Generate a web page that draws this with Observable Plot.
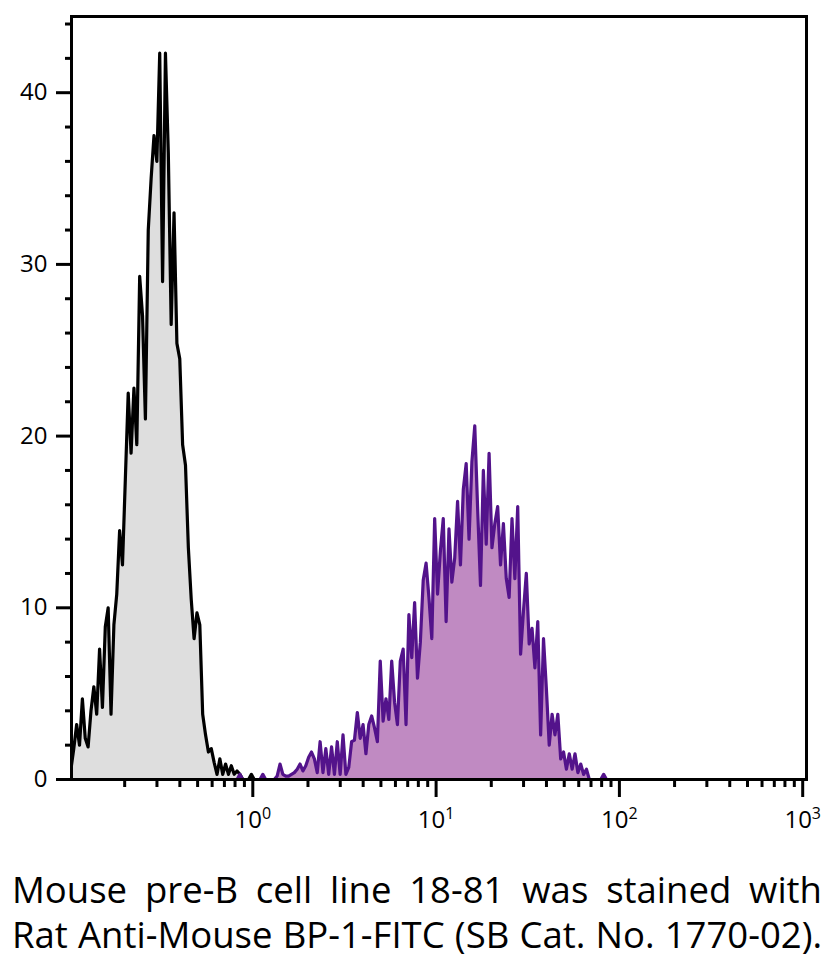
<!DOCTYPE html>
<html>
<head>
<meta charset="utf-8">
<script src="https://cdn.jsdelivr.net/npm/d3@7"></script>
<script src="https://cdn.jsdelivr.net/npm/@observablehq/plot@0.6"></script>
<style>
  html, body { margin: 0; padding: 0; background: #fff; }
  #chart svg { display: block; }
  #caption { position: absolute; left: 12px; width: 810px; font-family: "Open Sans", sans-serif; color: #000; }
  #caption div { text-align: justify; text-align-last: justify; white-space: nowrap; }
</style>
</head>
<body>
<div id="chart"></div>
<div id="caption">
  <div id="cap1">Mouse pre-B cell line 18-81 was stained with</div>
  <div id="cap2">Rat Anti-Mouse BP-1-FITC (SB Cat. No. 1770-02).</div>
</div>
<script>
// Histogram channels: 64 channels per decade, channel 0 starts at 10^-1
const channelsPerDecade = 64;
const blackStart = 0;
const blackCounts = [
  0.6, 1.8, 3.2, 2.0, 4.7, 2.4, 1.9, 4.0, 5.4, 3.8,
  7.6, 4.2, 8.9, 10.0, 3.8, 9.0, 10.8, 14.5, 12.5, 17.5,
  22.5, 19.0, 22.8, 19.5, 29.3, 27.0, 21.0, 32.0, 35.0, 37.5,
  36.0, 42.3, 29.0, 42.3, 36.5, 26.5, 33.0, 25.4, 24.5, 19.5,
  18.3, 13.5, 10.5, 8.2, 9.7, 9.0, 3.8, 2.6, 1.6, 1.8,
  1.0, 0.3, 1.2, 0.3, 0.9, 0.3, 0.8, 0.3, 0.5, 0.3,
  0, 0, 0, 0.3, 0
];
const purpleStart = 57;
const purpleCounts = [
  0, 0, 0.3, 0, 0, 0, 0, 0, 0, 0,
  0.3, 0, 0, 0, 0, 0.2, 0.9, 0.3, 0.2, 0.2,
  0.3, 0.4, 0.6, 0.9, 0.5, 0.8, 1.3, 1.6, 1.2, 0.4,
  2.2, 0.4, 1.8, 0.3, 1.9, 0.3, 2.2, 0.3, 2.6, 0.3,
  0.7, 2.2, 2.3, 3.9, 2.4, 3.2, 1.5, 3.2, 3.7, 3.0,
  2.2, 6.9, 3.4, 4.7, 3.5, 6.9, 4.5, 3.2, 6.9, 7.6,
  3.2, 9.6, 7.1, 10.3, 5.9, 8.0, 11.6, 12.6, 10.6, 8.2,
  15.2, 10.8, 13.3, 15.2, 9.2, 14.6, 11.5, 12.9, 16.2, 12.5,
  16.9, 18.4, 14.0, 18.5, 20.6, 15.8, 11.3, 18.0, 13.7, 19.0,
  13.5, 14.9, 15.9, 12.5, 14.9, 11.7, 10.6, 15.2, 11.7, 15.9,
  7.3, 9.8, 12.0, 7.9, 8.8, 6.5, 9.2, 2.6, 8.2, 5.3,
  2.0, 3.8, 2.6, 3.8, 1.2, 1.6, 0.6, 1.5, 0.6, 1.5,
  0.4, 0.9, 0.3, 0.6, 0, 0, 0, 0, 0, 0.3,
  0
];
const yMajorTicks = [0, 10, 20, 30, 40];
const yMinorTicks = [2, 4, 6, 8, 12, 14, 16, 18, 22, 24, 26, 28, 32, 34, 36, 38, 42, 44];
const xMajorTicks = [1, 10, 100, 1000];
const xMinorMultipliers = [2, 3, 4, 5, 6, 7, 8, 9];
const xDecades = [0.1, 1, 10, 100];
const captionLines = ["Mouse pre-B cell line 18-81 was stained with", "Rat Anti-Mouse BP-1-FITC (SB Cat. No. 1770-02)."];

const toRows = (start, counts) => counts.map((v, i) => ({
  x: Math.pow(10, -1 + (start + i + 0.5) / channelsPerDecade),
  y: v
}));
const blackData = toRows(blackStart, blackCounts);
const purpleData = toRows(purpleStart, purpleCounts);
const xMinorTicks = xDecades.flatMap(d => xMinorMultipliers.map(m => d * m));

const W = 834, H = 850;
const mL = 71, mR = 28, mT = 16, mB = 71;
const pxPerDecade = 183.3;
const xLeftLog = -1 + (mL - 69) / pxPerDecade;
const xRightLog = -1 + (W - mR - 69) / pxPerDecade;
const yTop = (H - mB - mT) / 17.17;

const font = '"Open Sans", sans-serif';
const plot = Plot.plot({
  width: W,
  height: H,
  marginLeft: mL,
  marginRight: mR,
  marginTop: mT,
  marginBottom: mB,
  style: { fontFamily: font, fontSize: "24px", color: "#000", background: "#fff" },
  x: { type: "log", domain: [Math.pow(10, xLeftLog), Math.pow(10, xRightLog)] },
  y: { domain: [0, yTop] },
  marks: [
    Plot.areaY(blackData, { x: "x", y: "y", fill: "#dedede", clip: true }),
    Plot.lineY(blackData, { x: "x", y: "y", stroke: "#000", strokeWidth: 3.2, clip: true }),
    Plot.areaY(purpleData, { x: "x", y: "y", fill: "#c08ac2", clip: true }),
    Plot.lineY(purpleData, { x: "x", y: "y", stroke: "#53138b", strokeWidth: 3.2, clip: true }),
    Plot.axisY({ ticks: yMinorTicks, tickSize: 6, tickFormat: () => "", strokeWidth: 3, label: null }),
    Plot.axisY({ ticks: yMajorTicks, tickSize: 15, tickPadding: 9, strokeWidth: 3, fontSize: 24, label: null }),
    Plot.axisX({ ticks: xMinorTicks, tickSize: 8, tickFormat: () => "", strokeWidth: 3, label: null }),
    Plot.axisX({ ticks: xMajorTicks, tickSize: 18, tickPadding: 13, strokeWidth: 3, fontSize: 24,
                 tickFormat: d => "10^" + Math.round(Math.log10(d)), label: null }),
    Plot.frame({ stroke: "#000", strokeWidth: 3 })
  ]
});
document.getElementById("chart").appendChild(plot);

// Thicker tick strokes
plot.querySelectorAll('g[aria-label$="tick"]').forEach(g => {
  g.setAttribute("stroke-width", "3");
  g.querySelectorAll("path, line").forEach(p => p.setAttribute("stroke-width", "3"));
});

// Render exponents as superscripts
plot.querySelectorAll("text").forEach(t => {
  const s = t.textContent;
  const m = /^10\^(-?\d+)$/.exec(s);
  if (m) {
    t.textContent = "10";
    const ts = document.createElementNS("http://www.w3.org/2000/svg", "tspan");
    ts.setAttribute("dy", "-0.55em");
    ts.setAttribute("font-size", "16");
    ts.textContent = m[1];
    t.appendChild(ts);
  }
});

// Caption: fit lines to the width
const cap = document.getElementById("caption");
const ctx = document.createElement("canvas").getContext("2d");
ctx.font = '100px "Open Sans"';
const w100 = ctx.measureText(captionLines[1]).width;
const fs = Math.min(37, 806 / w100 * 100);
cap.style.fontSize = fs + "px";
cap.style.lineHeight = "45px";
// place first baseline at y = 904
const asc = 1.069 * fs, desc = 0.293 * fs;
const baseOff = (45 - (asc + desc)) / 2 + asc;
cap.style.top = (904 - baseOff) + "px";
</script>
</body>
</html>
